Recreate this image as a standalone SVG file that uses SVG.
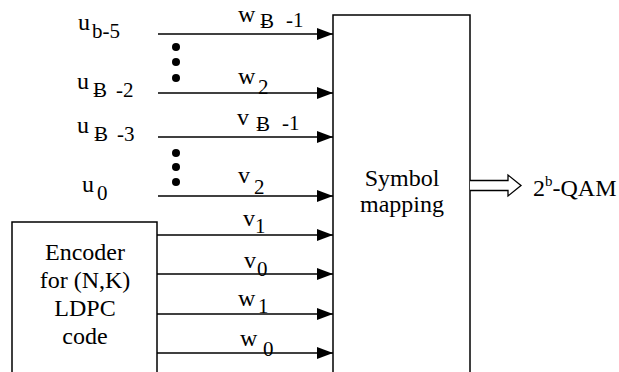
<svg xmlns="http://www.w3.org/2000/svg" width="619" height="372" viewBox="0 0 619 372" font-family="'Liberation Serif', 'Times New Roman', Tinos, serif">
<style>
text{fill:#000;font-family:'Liberation Serif','Times New Roman',Tinos,serif}
.m{font-size:24px}
.s{font-size:21px}
.b{font-size:24px;text-anchor:middle}
.box{fill:#fff;stroke:#000;stroke-width:1.5}
.c{stroke:#000;stroke-width:1.5;fill:none;marker-end:url(#ah)}
</style>
<defs>
<marker id="ah" markerUnits="userSpaceOnUse" markerWidth="17" markerHeight="12" refX="16" refY="6" orient="auto">
<path d="M0,0 L16,6 L0,12 Z" fill="#000"/>
</marker>
</defs>
<g id="encoder">
<rect class="box" x="12" y="222" width="145" height="160"/>
<text class="b" x="85" y="260">Encoder</text>
<text class="b" x="85" y="288">for (N,K)</text>
<text class="b" x="85" y="316">LDPC</text>
<text class="b" x="85" y="344">code</text>
</g>
<g id="mapper">
<rect class="box" x="333" y="15" width="137" height="367"/>
<text class="b" x="402" y="186">Symbol</text>
<text class="b" x="402" y="212">mapping</text>
</g>
<g id="output">
<path d="M470,180.5 H508 V175 L521,185.5 L508,196 V190.5 H470" fill="#fff" stroke="#000" stroke-width="1.3"/>
<text class="b" x="533" y="196" style="text-anchor:start">2<tspan font-size="15" dy="-10">b</tspan><tspan dy="10">-QAM</tspan></text>
</g>
<g id="inputs">
<text class="m" x="78" y="30">u</text><text class="s" x="92" y="38">b-5</text>
<text class="m" x="77" y="89">u</text><text class="s" x="93" y="97">Ƀ</text><text class="s" x="116" y="97">-2</text>
<text class="m" x="77" y="133">u</text><text class="s" x="94" y="141">Ƀ</text><text class="s" x="117" y="141">-3</text>
<text class="m" x="82" y="192">u</text><text class="s" x="97" y="200">0</text>
<circle cx="176" cy="47" r="4"/><circle cx="176" cy="62" r="4"/><circle cx="176" cy="78" r="4"/>
<circle cx="176" cy="153" r="4"/><circle cx="176" cy="167" r="4"/><circle cx="176" cy="182" r="4"/>
</g>
<g id="connectors">
<line class="c" x1="158" y1="34" x2="333" y2="34"/>
<line class="c" x1="158" y1="93" x2="333" y2="93"/>
<line class="c" x1="158" y1="137" x2="333" y2="137"/>
<line class="c" x1="158" y1="196" x2="333" y2="196"/>
<line class="c" x1="157" y1="235" x2="333" y2="235"/>
<line class="c" x1="157" y1="274" x2="333" y2="274"/>
<line class="c" x1="157" y1="314" x2="333" y2="314"/>
<line class="c" x1="157" y1="353" x2="333" y2="353"/>
</g>
<g id="labels">
<text class="m" x="238" y="22">w</text><text class="s" x="260" y="28">Ƀ</text><text class="s" x="286" y="27">-1</text>
<text class="m" x="238" y="84">w</text><text class="s" x="258" y="94">2</text>
<text class="m" x="237" y="125">v</text><text class="s" x="256" y="131">Ƀ</text><text class="s" x="282" y="130">-1</text>
<text class="m" x="238" y="183">v</text><text class="s" x="254" y="194">2</text>
<text class="m" x="243" y="226">v</text><text class="s" x="255" y="233">1</text>
<text class="m" x="244" y="268">v</text><text class="s" x="257" y="276">0</text>
<text class="m" x="238" y="306">w</text><text class="s" x="258" y="313">1</text>
<text class="m" x="240" y="346">w</text><text class="s" x="263" y="356">0</text>
</g>
</svg>
